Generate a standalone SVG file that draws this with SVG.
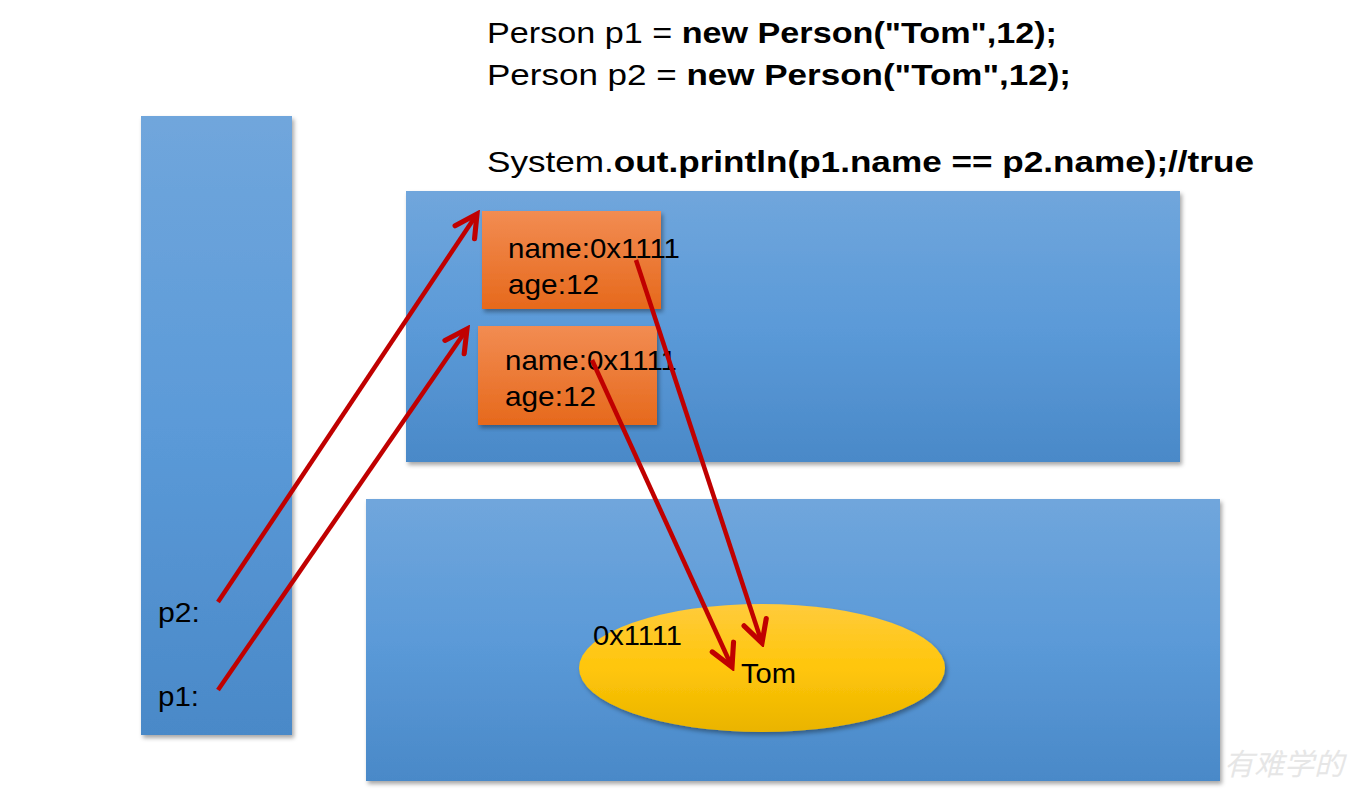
<svg xmlns="http://www.w3.org/2000/svg" width="1353" height="798" viewBox="0 0 1353 798">
<style>
.t{font-family:"Liberation Sans",Arial,sans-serif;fill:#000}
.code{font-size:30px}
.b{font-weight:bold}
.lbl{font-size:28px}
.conn{stroke:#c00000;stroke-width:4.5;fill:none}
</style>
<defs>
<linearGradient id="blue" x1="0" y1="0" x2="0" y2="1">
<stop offset="0" stop-color="#70a6dc"/><stop offset="0.5" stop-color="#5b9ad8"/><stop offset="1" stop-color="#4a89c8"/>
</linearGradient>
<linearGradient id="orange" x1="0" y1="0" x2="0" y2="1">
<stop offset="0" stop-color="#f28c52"/><stop offset="1" stop-color="#e6691c"/>
</linearGradient>
<linearGradient id="yellow" x1="0" y1="0" x2="0" y2="1">
<stop offset="0" stop-color="#ffcb3c"/><stop offset="0.5" stop-color="#ffc60a"/><stop offset="1" stop-color="#eab400"/>
</linearGradient>
<filter id="sh" x="-5%" y="-5%" width="112%" height="112%">
<feDropShadow dx="2" dy="3" stdDeviation="2" flood-color="#000" flood-opacity="0.35"/>
</filter>
<marker id="ah" viewBox="0 0 20 20" refX="17" refY="10" markerWidth="6.5" markerHeight="6.5" markerUnits="strokeWidth" orient="auto">
<path d="M2,2 L17,10 L2,18" fill="none" stroke="#c00000" stroke-width="3.5" stroke-linecap="round" stroke-linejoin="miter"/>
</marker>
</defs>
<g id="code">
<text class="t code" x="487" y="43" textLength="570" lengthAdjust="spacingAndGlyphs">Person p1 = <tspan class="b">new Person("Tom",12);</tspan></text>
<text class="t code" x="487" y="85" textLength="584" lengthAdjust="spacingAndGlyphs">Person p2 = <tspan class="b">new Person("Tom",12);</tspan></text>
<text class="t code" x="487" y="172" textLength="767" lengthAdjust="spacingAndGlyphs">System.<tspan class="b">out.println(p1.name == p2.name);//true</tspan></text>
</g>
<g id="stack">
<rect x="141" y="116" width="151" height="619" fill="url(#blue)" filter="url(#sh)"/>
<text class="t lbl" x="158" y="622" textLength="42" lengthAdjust="spacingAndGlyphs">p2:</text>
<text class="t lbl" x="158" y="706" textLength="41" lengthAdjust="spacingAndGlyphs">p1:</text>
</g>
<g id="heap">
<rect x="406" y="191" width="774" height="271" fill="url(#blue)" filter="url(#sh)"/>
</g>
<g id="pool">
<rect x="366" y="499" width="854" height="282" fill="url(#blue)" filter="url(#sh)"/>
</g>
<g id="obj1">
<rect x="482" y="211" width="179" height="98" fill="url(#orange)" filter="url(#sh)"/>
<text class="t lbl" x="508" y="258" textLength="172" lengthAdjust="spacingAndGlyphs">name:0x1111</text>
<text class="t lbl" x="508" y="294" textLength="91" lengthAdjust="spacingAndGlyphs">age:12</text>
</g>
<g id="obj2">
<rect x="478" y="326" width="179" height="99" fill="url(#orange)" filter="url(#sh)"/>
<text class="t lbl" x="505" y="370" textLength="172" lengthAdjust="spacingAndGlyphs">name:0x1111</text>
<text class="t lbl" x="505" y="406" textLength="91" lengthAdjust="spacingAndGlyphs">age:12</text>
</g>
<g id="tom">
<ellipse cx="762" cy="668" rx="183" ry="64" fill="url(#yellow)" filter="url(#sh)"/>
<text class="t lbl" x="593" y="645" textLength="89" lengthAdjust="spacingAndGlyphs">0x1111</text>
<text class="t lbl" x="741" y="683" textLength="55" lengthAdjust="spacingAndGlyphs">Tom</text>
</g>
<g id="connectors">
<line class="conn" x1="218" y1="602" x2="477" y2="214" marker-end="url(#ah)"/>
<line class="conn" x1="218" y1="690" x2="467" y2="329" marker-end="url(#ah)"/>
<line class="conn" x1="636" y1="260" x2="762" y2="643" marker-end="url(#ah)"/>
<line class="conn" x1="592" y1="360" x2="732" y2="667" marker-end="url(#ah)"/>
</g>
<g id="watermark">
<text x="1224" y="775" font-family="'Noto Sans CJK SC',sans-serif" font-size="30" font-style="italic" fill="#e6e6e6">有难学的</text>
</g>
</svg>
